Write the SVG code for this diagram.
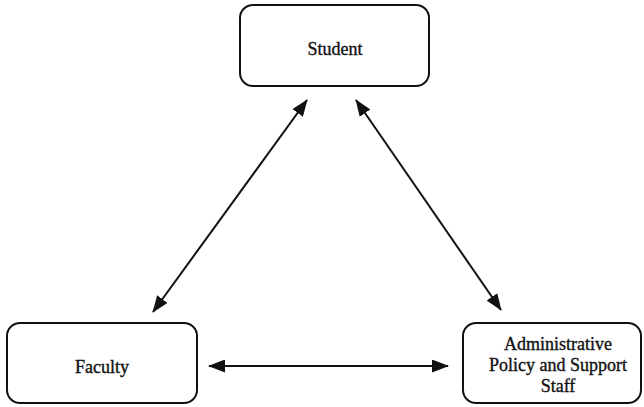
<svg xmlns="http://www.w3.org/2000/svg" width="644" height="407" viewBox="0 0 644 407">
<defs>
<style>
.box{fill:#fff;stroke:#111;stroke-width:2}
.lbl{font-family:"Liberation Serif","Times New Roman",serif;font-size:18px;fill:#111;stroke:#111;stroke-width:0.35;text-anchor:middle}
.conn{stroke:#111;stroke-width:2;fill:none;marker-start:url(#ah);marker-end:url(#ah)}
</style>
<marker id="ah" viewBox="0 0 17 13" refX="16" refY="6.5" markerWidth="17" markerHeight="13" markerUnits="userSpaceOnUse" orient="auto-start-reverse">
<path d="M0,0 L17,6.5 L0,13 Z" fill="#111"/>
</marker>
</defs>
<rect width="644" height="407" fill="#fff"/>
<g id="student">
<rect class="box" x="240" y="5" width="189" height="81" rx="13"/>
<text class="lbl" x="335" y="55">Student</text>
</g>
<g id="faculty">
<rect class="box" x="7" y="323" width="190" height="80" rx="13"/>
<text class="lbl" x="102" y="373">Faculty</text>
</g>
<g id="admin">
<rect class="box" x="463" y="323" width="178" height="80" rx="13"/>
<text class="lbl" x="558" y="350">Administrative</text>
<text class="lbl" x="558" y="371">Policy and Support</text>
<text class="lbl" x="558" y="392">Staff</text>
</g>
<g id="connectors">
<line class="conn" x1="307" y1="100" x2="153" y2="312"/>
<line class="conn" x1="356" y1="100" x2="501" y2="310"/>
<line class="conn" x1="209" y1="366" x2="448" y2="366"/>
</g>
</svg>
